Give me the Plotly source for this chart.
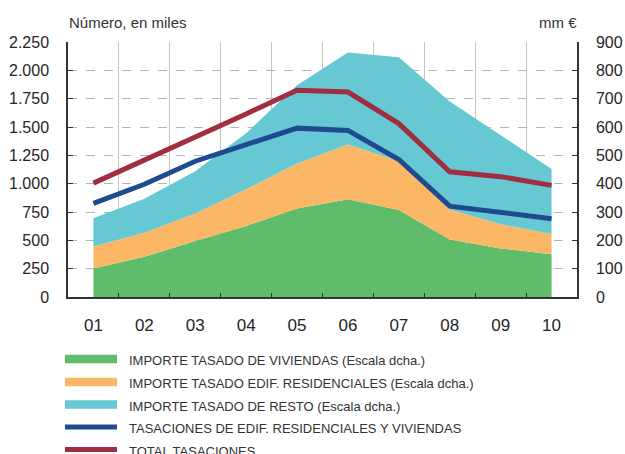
import plotly.graph_objects as go

years = ["01", "02", "03", "04", "05", "06", "07", "08", "09", "10"]
# Right axis (mm €), stacked components
importe_viviendas = [101, 142, 198, 251, 312, 345, 307, 203, 171, 151]
importe_edif_resid = [77, 85, 97, 129, 159, 193, 173, 106, 86, 71]
importe_resto = [100, 120, 149, 198, 276, 325, 366, 381, 314, 230]
# Left axis (thousands)
tasaciones_resid = [826, 995, 1198, 1345, 1490, 1470, 1213, 802, 744, 691]
total_tasaciones = [1005, 1205, 1410, 1615, 1825, 1808, 1530, 1105, 1062, 985]

names = [
    "IMPORTE TASADO DE VIVIENDAS (Escala dcha.)",
    "IMPORTE TASADO EDIF. RESIDENCIALES (Escala dcha.)",
    "IMPORTE TASADO DE RESTO (Escala dcha.)",
    "TASACIONES DE EDIF. RESIDENCIALES Y VIVIENDAS",
    "TOTAL TASACIONES",
]
colors = ["#5EBC6A", "#FBB766", "#66C8D3", "#1F4A8E", "#A02D40"]

W, H = 625, 454
L, R, T, B = 68, 577, 42, 297


def px(x):
    return (x - L) / (R - L)


def py(y):
    return (B - y) / (B - T)


fig = go.Figure()
for vals, nm, c in zip([importe_viviendas, importe_edif_resid, importe_resto], names[:3], colors[:3]):
    fig.add_trace(go.Scatter(
        x=years, y=vals, name=nm, stackgroup="a", mode="none",
        fillcolor=c, line=dict(width=0), yaxis="y", hoverinfo="skip",
    ))
for vals, nm, c in zip([tasaciones_resid, total_tasaciones], names[3:], colors[3:]):
    fig.add_trace(go.Scatter(
        x=years, y=vals, name=nm, mode="lines",
        line=dict(color=c, width=5), yaxis="y2", hoverinfo="skip",
    ))

tickfont = dict(family="Liberation Sans, Arial, sans-serif", size=16, color="#262626")
axcol = "#333333"

fig.update_layout(
    width=W, height=H,
    margin=dict(l=L, r=W - R, t=T, b=H - B),
    paper_bgcolor="white", plot_bgcolor="white",
    showlegend=False,
    separators=",.",
    xaxis=dict(
        type="category", range=[-0.5, 9.5], tickson="boundaries",
        showgrid=True, gridcolor="#c4c4c4", gridwidth=1,
        ticks="inside", ticklen=4, tickcolor=axcol,
        showline=True, linecolor=axcol, linewidth=1.5,
        tickfont=dict(family="Liberation Sans, Arial, sans-serif", size=17, color="#262626"),
        ticklabelstandoff=12, zeroline=False, automargin=False,
    ),
    yaxis=dict(
        side="right", range=[0, 900], dtick=100, tick0=0,
        showgrid=True, gridcolor="#b5b5b5", griddash="dash", gridwidth=1,
        ticks="inside", ticklen=5, tickcolor=axcol,
        showline=True, linecolor=axcol, linewidth=1.5,
        tickfont=tickfont, ticklabelstandoff=14, zeroline=False, automargin=False,
    ),
    yaxis2=dict(
        side="left", overlaying="y", range=[0, 2250], dtick=250, tick0=0,
        tickformat=",d", showgrid=False,
        ticks="inside", ticklen=5, tickcolor=axcol,
        showline=True, linecolor=axcol, linewidth=1.5,
        tickfont=tickfont, ticklabelstandoff=14, zeroline=False, automargin=False,
    ),
)

fig.add_annotation(text="Número, en miles", xref="paper", yref="paper",
                   x=px(67), y=py(22), xanchor="left", yanchor="middle", showarrow=False,
                   font=dict(family="Liberation Sans, Arial, sans-serif", size=15, color="#333333"))
fig.add_annotation(text="mm €", xref="paper", yref="paper",
                   x=px(579), y=py(22), xanchor="right", yanchor="middle", showarrow=False,
                   font=dict(family="Liberation Sans, Arial, sans-serif", size=15, color="#333333"))

# legend
row_y = [359, 382, 404.5, 427, 449.5]
sw_h = [8.5, 8.5, 8.5, 5, 5]
for i, (nm, c) in enumerate(zip(names, colors)):
    yc = row_y[i]
    fig.add_shape(type="rect", xref="paper", yref="paper",
                  x0=px(65), x1=px(117), y0=py(yc - sw_h[i] / 2), y1=py(yc + sw_h[i] / 2),
                  fillcolor=c, line=dict(width=0))
    fig.add_annotation(text=nm, xref="paper", yref="paper",
                       x=px(127), y=py(yc + 1.5), xanchor="left", yanchor="middle", showarrow=False,
                       font=dict(family="Liberation Sans, Arial, sans-serif", size=13,
                                 color="#333333"))

fig.write_html("out.html",
               config={"displayModeBar": False},
               post_script="document.body.style.margin='0';document.body.style.overflow='hidden';")
